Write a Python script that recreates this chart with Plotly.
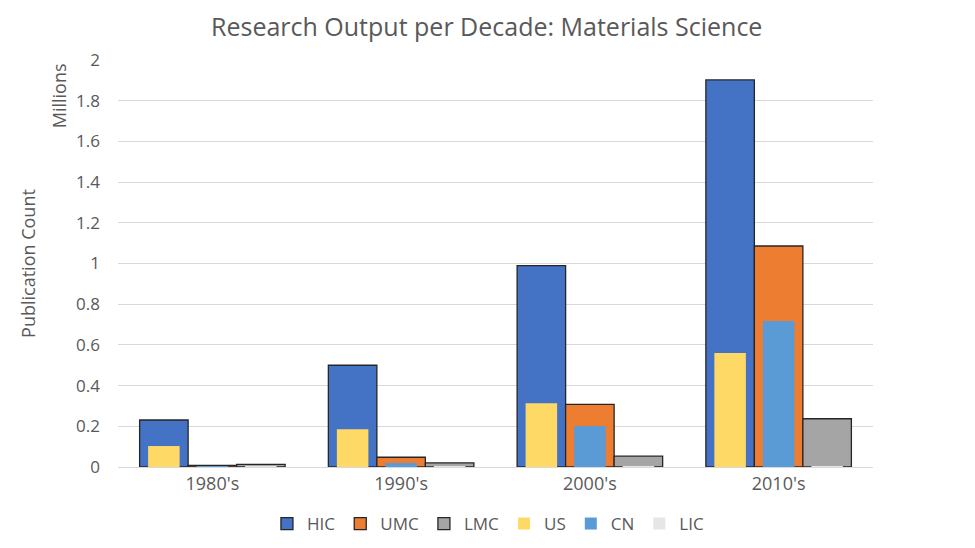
import plotly.graph_objects as go

# publication counts, in millions
decades = ["1980's", "1990's", "2000's", "2010's"]
hic = [0.231, 0.500, 0.990, 1.902]
umc = [0.008, 0.048, 0.308, 1.086]
lmc = [0.013, 0.020, 0.053, 0.237]
us = [0.103, 0.185, 0.313, 0.560]
cn = [0.001, 0.020, 0.201, 0.717]
lic = [0.0001, 0.0002, 0.0003, 0.0005]

grey_text = '#595959'
font_name = 'Open Sans'

fig = go.Figure()

# wide bars (income groups), outlined
wide_w = 0.257
for name, vals, color, off in [('HIC', hic, '#4472C4', -1.5 * wide_w),
                               ('UMC', umc, '#ED7D31', -0.5 * wide_w),
                               ('LMC', lmc, '#A5A5A5', 0.5 * wide_w)]:
    fig.add_bar(x=decades, y=vals, name=name, width=wide_w, offset=off,
                marker=dict(color=color, line=dict(color='#262626', width=1.3)))

# narrow bars drawn over the wide ones
narrow_w = 0.167
for name, vals, color, centre in [('US', us, '#FFD966', -wide_w),
                                  ('CN', cn, '#5B9BD5', 0),
                                  ('LIC', lic, '#E7E6E6', wide_w)]:
    fig.add_bar(x=decades, y=vals, name=name, width=narrow_w, offset=centre - narrow_w / 2,
                marker=dict(color=color, line=dict(width=0)))

# the page body adds an 8px margin, so the margins are shifted to compensate
fig.update_layout(
    width=975, height=548,
    barmode='overlay',
    paper_bgcolor='white', plot_bgcolor='white',
    margin=dict(l=110, r=110, t=52, b=89),
    font=dict(family=font_name, color=grey_text, size=18),
    title=dict(text='Research Output per Decade: Materials Science', x=0.491, xref='container',
               xanchor='center', y=0.965, yanchor='middle', font=dict(size=25, color=grey_text)),
    xaxis=dict(showgrid=False, showline=True, linecolor='#D9D9D9', linewidth=1,
               ticks='', tickfont=dict(size=18), range=[-0.5, 3.5]),
    yaxis=dict(range=[0, 2], dtick=0.2, showgrid=True, gridcolor='#D9D9D9', gridwidth=1,
               zeroline=False, showline=False, ticks='', tickfont=dict(size=17),
               ticklabelstandoff=17),
    legend=dict(orientation='h', x=0.49, xanchor='center', y=-0.14, yanchor='middle',
                font=dict(size=17), traceorder='normal', itemwidth=30),
    showlegend=True,
    annotations=[
        dict(text='Millions', xref='paper', yref='paper', x=-0.077, y=0.913,
             xanchor='center', yanchor='middle',
             textangle=-90, showarrow=False, font=dict(size=18, color=grey_text)),
        dict(text='Publication Count', xref='paper', yref='paper', x=-0.12, y=0.5,
             xanchor='center', yanchor='middle',
             textangle=-90, showarrow=False, font=dict(size=18, color=grey_text)),
    ],
)

fig.write_html("out.html")
